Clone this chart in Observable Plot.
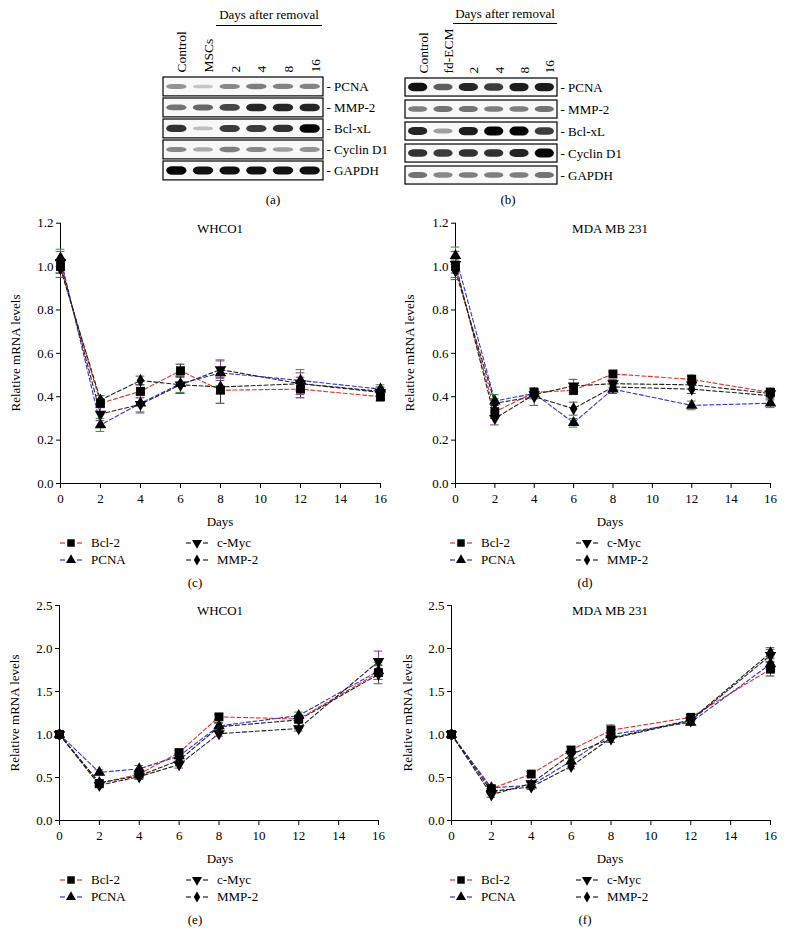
<!DOCTYPE html>
<html><head><meta charset="utf-8">
<script src="https://cdn.jsdelivr.net/npm/d3@7"></script>
<script src="https://cdn.jsdelivr.net/npm/@observablehq/plot@0.6"></script>
<style>
body{margin:0;background:#fff;}
#page{position:relative;width:786px;height:933px;background:#fff;font-family:"Liberation Serif","DejaVu Serif",serif;color:#000;overflow:hidden;}
.abs{position:absolute;white-space:nowrap;}
.t13{font-size:13px;}
.ctr{transform:translate(-50%,-50%);}
.ylab{transform:translate(-50%,-50%) rotate(-90deg);font-size:13px;}
.leg{position:absolute;display:flex;align-items:center;font-size:13px;transform:translateY(-50%);}
.leg svg{margin-right:9px;}
svg{overflow:visible;}
</style></head>
<body><div id="page"></div>
<script>
// ---------- Data ----------
const days = [0, 2, 4, 6, 8, 12, 16];
const genes = ["Bcl-2", "PCNA", "c-Myc", "MMP-2"];

// (c) WHCO1, short term
const c_bcl2 = [1.00, 0.37, 0.425, 0.52, 0.43, 0.435, 0.40];
const c_pcna = [1.04, 0.27, 0.37, 0.46, 0.51, 0.475, 0.435];
const c_cmyc = [1.02, 0.32, 0.365, 0.455, 0.525, 0.46, 0.42];
const c_mmp2 = [0.99, 0.385, 0.475, 0.455, 0.445, 0.46, 0.425];
const c_bcl2_err = [0.03, 0.02, 0.03, 0.03, 0.06, 0.04, 0.02];
const c_pcna_err = [0.04, 0.03, 0.04, 0.04, 0.06, 0.05, 0.02];
const c_cmyc_err = [0.05, 0.03, 0.04, 0.04, 0.04, 0.05, 0.02];
const c_mmp2_err = [0.04, 0.02, 0.02, 0.04, 0.03, 0.03, 0.02];

// (d) MDA MB 231, short term
const d_bcl2 = [1.00, 0.33, 0.42, 0.43, 0.505, 0.48, 0.42];
const d_pcna = [1.05, 0.38, 0.415, 0.28, 0.435, 0.36, 0.37];
const d_cmyc = [1.01, 0.30, 0.41, 0.45, 0.46, 0.455, 0.415];
const d_mmp2 = [0.98, 0.37, 0.40, 0.345, 0.445, 0.435, 0.405];
const d_bcl2_err = [0.03, 0.03, 0.02, 0.02, 0.01, 0.02, 0.02];
const d_pcna_err = [0.04, 0.03, 0.02, 0.02, 0.02, 0.02, 0.02];
const d_cmyc_err = [0.06, 0.03, 0.02, 0.03, 0.02, 0.04, 0.02];
const d_mmp2_err = [0.04, 0.02, 0.04, 0.03, 0.03, 0.02, 0.02];

// (e) WHCO1, long term
const e_bcl2 = [1.00, 0.43, 0.54, 0.79, 1.205, 1.18, 1.72];
const e_pcna = [1.00, 0.56, 0.60, 0.75, 1.10, 1.22, 1.74];
const e_cmyc = [1.00, 0.41, 0.51, 0.65, 1.01, 1.07, 1.85];
const e_mmp2 = [1.00, 0.44, 0.52, 0.70, 1.09, 1.17, 1.70];
const e_bcl2_err = [0.03, 0.03, 0.03, 0.03, 0.03, 0.03, 0.08];
const e_pcna_err = [0.03, 0.03, 0.04, 0.03, 0.04, 0.04, 0.10];
const e_cmyc_err = [0.03, 0.03, 0.03, 0.04, 0.03, 0.03, 0.12];
const e_mmp2_err = [0.03, 0.03, 0.04, 0.03, 0.04, 0.04, 0.11];

// (f) MDA MB 231, long term
const f_bcl2 = [1.00, 0.37, 0.54, 0.82, 1.05, 1.20, 1.76];
const f_pcna = [1.00, 0.38, 0.41, 0.69, 1.00, 1.14, 1.82];
const f_cmyc = [1.00, 0.30, 0.43, 0.77, 0.95, 1.16, 1.92];
const f_mmp2 = [1.00, 0.34, 0.39, 0.63, 0.96, 1.17, 1.95];
const f_bcl2_err = [0.03, 0.03, 0.03, 0.04, 0.06, 0.03, 0.08];
const f_pcna_err = [0.03, 0.03, 0.03, 0.03, 0.04, 0.03, 0.06];
const f_cmyc_err = [0.03, 0.03, 0.03, 0.04, 0.04, 0.04, 0.07];
const f_mmp2_err = [0.03, 0.03, 0.03, 0.03, 0.05, 0.04, 0.06];

const yTicksShort = [0, 0.2, 0.4, 0.6, 0.8, 1.0, 1.2];
const yTicksLong = [0, 0.5, 1.0, 1.5, 2.0, 2.5];
const xTicks = [0, 2, 4, 6, 8, 10, 12, 14, 16];

// Western blots (band darkness 0..1)
const lanesA = ["Control", "MSCs", "2", "4", "8", "16"];
const lanesB = ["Control", "fd-ECM", "2", "4", "8", "16"];
const proteins = ["PCNA", "MMP-2", "Bcl-xL", "Cyclin D1", "GAPDH"];
const blotA_PCNA = [0.35, 0.12, 0.4, 0.45, 0.42, 0.42];
const blotA_MMP2 = [0.5, 0.55, 0.7, 0.85, 0.85, 0.85];
const blotA_BclxL = [0.8, 0.15, 0.75, 0.75, 0.8, 1.0];
const blotA_CyclinD1 = [0.4, 0.25, 0.45, 0.4, 0.3, 0.35];
const blotA_GAPDH = [1.0, 0.95, 0.95, 0.95, 0.95, 0.95];
const blotB_PCNA = [0.95, 0.6, 0.85, 0.75, 0.9, 0.9];
const blotB_MMP2 = [0.45, 0.5, 0.5, 0.45, 0.45, 0.5];
const blotB_BclxL = [0.85, 0.3, 0.9, 1.0, 1.0, 0.75];
const blotB_CyclinD1 = [0.8, 0.75, 0.8, 0.8, 0.85, 1.0];
const blotB_GAPDH = [0.5, 0.4, 0.45, 0.45, 0.45, 0.5];

// ---------- Styles ----------
const lineColor = {"Bcl-2": "#e0312b", "PCNA": "#3333d6", "c-Myc": "#222", "MMP-2": "#222"};
const errColor = {"Bcl-2": "#333", "PCNA": "#3a8a3a", "c-Myc": "#8a3a9a", "MMP-2": "#555"};
const symName = {"Bcl-2": "square", "PCNA": "triangle", "c-Myc": "triangle", "MMP-2": "diamond"};
const symR = {"Bcl-2": 5.0, "PCNA": 4.3, "c-Myc": 4.3, "MMP-2": 4.0};
const symRot = {"Bcl-2": 0, "PCNA": 0, "c-Myc": 180, "MMP-2": 0};
const FONT = '"Liberation Serif", "DejaVu Serif", serif';

const page = document.getElementById("page");
function place(node, left, top) {
  node.style.position = "absolute";
  node.style.left = left + "px";
  node.style.top = top + "px";
  page.appendChild(node);
}
function html(str, left, top, cls) {
  const d = document.createElement("div");
  d.className = "abs " + (cls || "");
  d.style.left = left + "px"; d.style.top = top + "px";
  d.textContent = str;
  page.appendChild(d);
  return d;
}

function rowsOf(vals, errs) {
  return genes.flatMap((g, gi) => days.map((d, i) => ({gene: g, day: d, value: vals[gi][i], err: errs[gi][i]})));
}

function lineChart(o) {
  const rows = rowsOf(o.vals, o.errs);
  const marks = [
    Plot.ruleY([0], {stroke: "#000"}),
    Plot.ruleX([0], {stroke: "#000"}),
    Plot.axisY({ticks: o.yTicks, tickFormat: d3.format(".1f"), tickSize: 4, tickPadding: 3, label: null, fontSize: 13}),
    Plot.axisX({ticks: xTicks, tickSize: 5, tickPadding: 5, label: null, fontSize: 13}),
    Plot.line(rows, {x: "day", y: "value", z: "gene", stroke: d => lineColor[d.gene], strokeDasharray: "4,2.5", strokeWidth: 1.1}),
    Plot.ruleX(rows, {x: "day", y1: d => d.value - d.err, y2: d => d.value + d.err, stroke: d => errColor[d.gene], strokeWidth: 1}),
    Plot.ruleY(rows, {y: d => d.value + d.err, x1: d => d.day - 0.22, x2: d => d.day + 0.22, stroke: d => errColor[d.gene], strokeWidth: 1}),
    Plot.ruleY(rows, {y: d => d.value - d.err, x1: d => d.day - 0.22, x2: d => d.day + 0.22, stroke: d => errColor[d.gene], strokeWidth: 1})
  ];
  for (const g of ["MMP-2", "c-Myc", "PCNA", "Bcl-2"]) {
    marks.push(Plot.dot(rows.filter(d => d.gene === g), {x: "day", y: "value", symbol: () => symName[g], rotate: symRot[g], r: symR[g], fill: "#000", stroke: "none"}));
  }
  const svg = Plot.plot({
    width: o.width, height: o.height,
    marginLeft: o.ml, marginRight: o.mr, marginTop: o.mt, marginBottom: o.mb,
    x: {domain: [0, 16]},
    y: {domain: o.yDomain},
    style: {fontFamily: FONT, fontSize: "13px", color: "#000", background: "transparent", overflow: "visible"},
    marks
  });
  place(svg, o.left, o.top);
  const axisY0 = o.top + o.height - o.mb;
  const cx = o.left;
  html(o.title, cx + 220, o.top + o.mt + 6, "t13 ctr");
  html("Relative mRNA levels", o.yLabelX, (o.top + o.mt + axisY0) / 2, "ylab");
  html("Days", cx + 220, axisY0 + 39, "t13 ctr");
  html(o.caption, cx + 195, axisY0 + 100, "t13 ctr");
  legend(cx + 60, axisY0 + 60, "Bcl-2");
  legend(cx + 186, axisY0 + 60, "c-Myc");
  legend(cx + 60, axisY0 + 77, "PCNA");
  legend(cx + 186, axisY0 + 77, "MMP-2");
}

function legend(left, cy, g) {
  const d = document.createElement("div");
  d.className = "leg";
  d.style.left = left + "px"; d.style.top = cy + "px";
  const sizes = {"Bcl-2": 56, "PCNA": 44, "c-Myc": 44, "MMP-2": 36};
  const sym = {square: d3.symbolSquare, triangle: d3.symbolTriangle, diamond: d3.symbolDiamond}[symName[g]];
  const path = d3.symbol(sym, sizes[g])();
  d.innerHTML = `<svg width="22" height="12" viewBox="0 0 22 12">
    <line x1="0" x2="5" y1="6" y2="6" stroke="${lineColor[g]}" stroke-width="1.2"/>
    <line x1="17" x2="22" y1="6" y2="6" stroke="${lineColor[g]}" stroke-width="1.2"/>
    <path d="${path}" transform="translate(11,6) rotate(${symRot[g]})" fill="#000"/></svg><span>${g}</span>`;
  page.appendChild(d);
}

// ---------- Blots ----------
function blot(o) {
  const arrays = o.bands;
  const bands = proteins.flatMap((p, i) => arrays[i].map((k, j) => ({row: i, lane: j, k})));
  const rowsBox = proteins.map((p, i) => ({row: i, name: p}));
  const nrows = proteins.length;
  const svg = Plot.plot({
    width: o.ml + o.boxW + o.mr, height: o.mt + o.pitch * nrows + o.mb,
    marginLeft: o.ml, marginRight: o.mr, marginTop: o.mt, marginBottom: o.mb,
    x: {domain: [0, 6], axis: null},
    y: {domain: [0, nrows], reverse: true, axis: null},
    style: {fontFamily: FONT, fontSize: "13px", color: "#000", background: "transparent", overflow: "visible"},
    marks: [
      Plot.rect(rowsBox, {x1: () => 0, x2: () => 6, y1: d => d.row, y2: d => d.row + o.boxFrac, fill: "#f8f8f8"}),
      Plot.rect(bands, {
        x1: d => d.lane + 0.12, x2: d => d.lane + 0.88,
        y1: d => d.row + o.boxFrac / 2 - (0.07 + 0.13 * d.k), y2: d => d.row + o.boxFrac / 2 + (0.07 + 0.13 * d.k),
        fill: "#050505", fillOpacity: d => 0.1 + 0.9 * d.k, rx: 6, ariaLabel: "bands"
      }),
      Plot.rect(rowsBox, {x1: () => 0, x2: () => 6, y1: d => d.row, y2: d => d.row + o.boxFrac, fill: "none", stroke: "#000", strokeWidth: 1.2}),
      Plot.text(rowsBox, {frameAnchor: "right", y: d => d.row + o.boxFrac / 2, text: d => "- " + d.name, textAnchor: "start", dx: 3, fontSize: 13}),
      Plot.text(o.lanes, {x: (d, i) => i + 0.5, frameAnchor: "top", text: d => d, rotate: -90, textAnchor: "start", dy: -5, fontSize: 13.5})
    ]
  });
  const g = svg.querySelector('g[aria-label="bands"]');
  if (g) g.style.filter = "blur(1.4px)";
  place(svg, o.left, o.top);
}

blot({left: 160, top: 0, ml: 3, mr: 70, mt: 77, mb: 3, boxW: 160, pitch: 21, boxFrac: 0.9,
  lanes: lanesA, bands: [blotA_PCNA, blotA_MMP2, blotA_BclxL, blotA_CyclinD1, blotA_GAPDH]});
blot({left: 402, top: 0, ml: 3, mr: 70, mt: 78, mb: 3, boxW: 152, pitch: 22, boxFrac: 0.82,
  lanes: lanesB, bands: [blotB_PCNA, blotB_MMP2, blotB_BclxL, blotB_CyclinD1, blotB_GAPDH]});

// "Days after removal" headers
function header(x1, x2, ytext, yline) {
  html("Days after removal", (x1 + x2) / 2, ytext, "t13 ctr");
  const l = document.createElement("div");
  l.style.cssText = `position:absolute;left:${x1}px;top:${yline}px;width:${x2 - x1}px;height:0;border-top:1px solid #000;`;
  page.appendChild(l);
}
header(216, 322, 15, 25);
header(453, 557, 14, 23);
html("(a)", 273, 200, "t13 ctr");
html("(b)", 508, 200, "t13 ctr");

// ---------- Line charts ----------
lineChart({left: 0, top: 205, width: 390, height: 300, ml: 60, mr: 10, mt: 17.7, mb: 22,
  yDomain: [0, 1.2], yTicks: yTicksShort, title: "WHCO1", caption: "(c)", yLabelX: 16,
  vals: [c_bcl2, c_pcna, c_cmyc, c_mmp2], errs: [c_bcl2_err, c_pcna_err, c_cmyc_err, c_mmp2_err]});
lineChart({left: 390, top: 205, width: 396, height: 300, ml: 65, mr: 16, mt: 17.7, mb: 22,
  yDomain: [0, 1.2], yTicks: yTicksShort, title: "MDA MB 231", caption: "(d)", yLabelX: 410,
  vals: [d_bcl2, d_pcna, d_cmyc, d_mmp2], errs: [d_bcl2_err, d_pcna_err, d_cmyc_err, d_mmp2_err]});
lineChart({left: 0, top: 590, width: 390, height: 250, ml: 59, mr: 12, mt: 15, mb: 20,
  yDomain: [0, 2.5], yTicks: yTicksLong, title: "WHCO1", caption: "(e)", yLabelX: 15,
  vals: [e_bcl2, e_pcna, e_cmyc, e_mmp2], errs: [e_bcl2_err, e_pcna_err, e_cmyc_err, e_mmp2_err]});
lineChart({left: 390, top: 590, width: 396, height: 250, ml: 61, mr: 16, mt: 15, mb: 20,
  yDomain: [0, 2.5], yTicks: yTicksLong, title: "MDA MB 231", caption: "(f)", yLabelX: 408,
  vals: [f_bcl2, f_pcna, f_cmyc, f_mmp2], errs: [f_bcl2_err, f_pcna_err, f_cmyc_err, f_mmp2_err]});
</script></body></html>
